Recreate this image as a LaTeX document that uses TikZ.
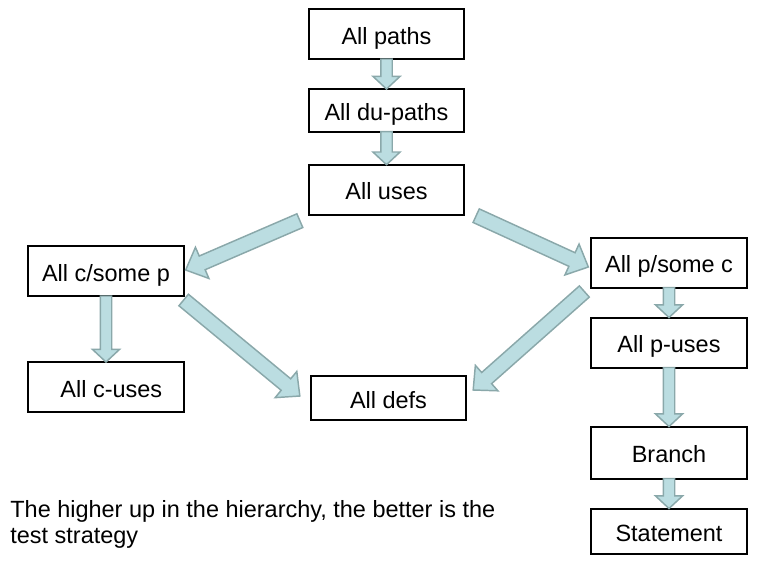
\documentclass[tikz,border=0pt]{standalone}
\usepackage{fontspec}
\setmainfont{Liberation Sans}
\usetikzlibrary{positioning,calc}
\definecolor{arrowfill}{RGB}{187,221,225}
\definecolor{arrowline}{RGB}{138,168,170}

\begin{document}
\begin{tikzpicture}[x=0.75pt, y=-0.75pt, semithick,
  box/.style={rectangle, draw, line width=1.5pt, minimum width=116.5pt, minimum height=37.5pt, inner sep=0pt, outer sep=0pt, text height=15pt, text depth=0pt, font=\fontsize{17.6}{20}\selectfont},
  block/.style n args={3}{draw=arrowline, fill=arrowfill, line width=1.1pt, line join=miter,
    to path={let \p1=($(\tikztotarget)!#3!(\tikztostart)$) in
      ($(\tikztostart)!#1!90:(\tikztotarget)$) -- ($(\p1)!#1!90:(\tikztotarget)$) -- ($(\p1)!#2!90:(\tikztotarget)$)
      -- (\tikztotarget) -- ($(\p1)!#2!-90:(\tikztotarget)$) -- ($(\p1)!#1!-90:(\tikztotarget)$)
      -- ($(\tikztostart)!#1!-90:(\tikztotarget)$) -- cycle}},
  flow/.style={block={4.3pt}{10.2pt}{9.5pt}},
  wide/.style={block={5.6pt}{12.75pt}{13.5pt}}]
		\useasboundingbox (0,0) rectangle (763,569);
		\node[box] (paths) at (386.5,34) {All paths};
		\node[box, minimum height=32pt] (dupaths) [below=22.5pt of paths] {All du-paths};
		\node[box] (uses) [below=24.75pt of dupaths] {All uses};
		\node[box] (csp) at (106,271) {All c/some p};
		\node[box] (cuses) [below=49.5pt of csp] {\hspace{8pt}All c-uses};
		\node[box, minimum height=33pt] (defs) at (388.5,398) {All defs};
		\node[box] (psc) at (669,262.5) {All p/some c};
		\node[box] (puses) [below=22.5pt of psc] {All p-uses};
		\node[box, minimum height=39pt] (branch) [below=44.25pt of puses] {Branch};
		\node[box, minimum height=34pt] (stmt) [below=22.5pt of branch] {Statement};
		\node[anchor=north west, inner sep=0pt, align=left, font=\fontsize{17.6}{19.5}\selectfont] (note) at (10,500) {The higher up in the hierarchy, the better is the\\test strategy};
		\path (paths.south) edge [flow] (dupaths.north);
		\path (dupaths.south) edge [flow] (uses.north);
		\path ([shift={(-9,6)}]uses.south west) edge [wide] ([shift={(2,-1)}]csp.east);
		\path ([shift={(12,1)}]uses.south east) edge [wide] ([shift={(-3,4.5)}]psc.west);
		\path ([shift={(0,4)}]csp.south east) edge [wide] ([shift={(-11,-2)}]defs.west);
		\path ([shift={(-7,4)}]psc.south west) edge [wide] ([shift={(7,-8)}]defs.east);
		\path (csp.south) edge [flow] (cuses.north);
		\path (psc.south) edge [flow] (puses.north);
		\path (puses.south) edge [flow] (branch.north);
		\path (branch.south) edge [flow] (stmt.north);
	\end{tikzpicture}
\end{document}
